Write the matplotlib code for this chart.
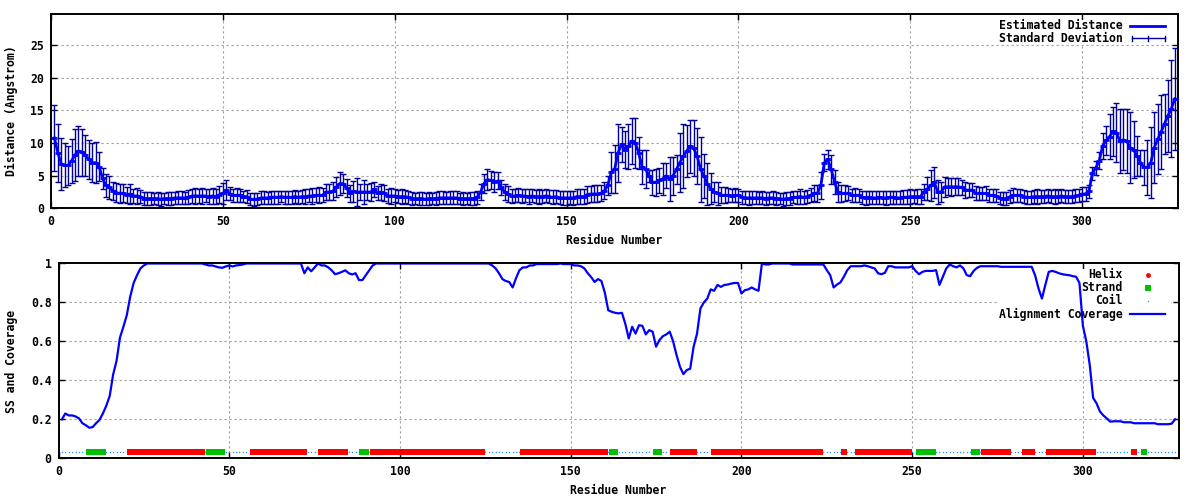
import numpy as np
import matplotlib
matplotlib.use('Agg')
import matplotlib.pyplot as plt
from matplotlib.lines import Line2D
from matplotlib.patches import Rectangle

# ---------------- data ----------------
residues = np.arange(1, 328)

distance = [
    10.8, 8.5, 6.8, 6.6, 6.6, 7.3, 8.2, 8.8, 8.6, 8.1,
    7.5, 7.0, 7.0, 6.4, 4.6, 3.5, 3.2, 2.7, 2.4, 2.3,
    2.3, 2.0, 2.2, 1.9, 1.9, 1.8, 1.5, 1.5, 1.5, 1.5,
    1.5, 1.4, 1.5, 1.5, 1.5, 1.6, 1.6, 1.6, 1.6, 1.7,
    1.9, 1.9, 1.9, 1.9, 1.9, 1.8, 1.9, 1.8, 2.1, 2.3,
    2.8, 2.2, 2.0, 2.0, 2.0, 1.8, 1.8, 1.4, 1.4, 1.4,
    1.6, 1.6, 1.6, 1.7, 1.7, 1.7, 1.8, 1.7, 1.7, 1.7,
    1.8, 1.7, 1.8, 1.8, 1.9, 1.9, 2.0, 2.0, 2.0, 2.5,
    2.5, 2.6, 3.3, 3.8, 3.8, 3.1, 2.3, 2.6, 2.5, 2.5,
    2.5, 2.5, 2.5, 2.9, 2.3, 2.5, 2.3, 1.9, 1.9, 1.9,
    1.8, 1.8, 1.8, 1.7, 1.5, 1.5, 1.5, 1.5, 1.4, 1.5,
    1.5, 1.5, 1.6, 1.6, 1.6, 1.6, 1.6, 1.6, 1.5, 1.5,
    1.5, 1.5, 1.5, 1.7, 2.5, 3.8, 4.4, 4.3, 4.0, 4.2,
    3.2, 2.5, 2.2, 1.9, 1.9, 2.0, 1.9, 1.9, 1.8, 1.9,
    1.8, 1.8, 1.8, 1.9, 1.8, 1.7, 1.8, 1.6, 1.6, 1.6,
    1.6, 1.6, 1.8, 1.8, 1.8, 2.1, 2.2, 2.2, 2.2, 2.3,
    2.7, 3.5, 5.5, 6.0, 8.5, 9.8, 9.0, 9.5, 10.3, 10.0,
    8.5, 6.3, 6.0, 5.0, 4.0, 4.0, 4.3, 4.5, 5.0, 4.5,
    5.0, 6.0, 7.0, 8.0, 8.8, 9.5, 9.2, 8.0, 6.0, 5.0,
    3.7, 3.0, 2.5, 2.3, 2.0, 2.0, 2.0, 1.9, 2.0, 2.0,
    1.7, 1.6, 1.6, 1.6, 1.6, 1.6, 1.6, 1.5, 1.6, 1.6,
    1.5, 1.5, 1.4, 1.5, 1.5, 1.7, 1.7, 1.8, 1.7, 1.8,
    2.0, 2.3, 2.3, 3.5, 7.0, 7.5, 6.0, 4.0, 2.5, 2.3,
    2.3, 2.3, 2.0, 2.0, 2.0, 1.7, 1.6, 1.7, 1.6, 1.6,
    1.7, 1.6, 1.6, 1.7, 1.7, 1.6, 1.6, 1.7, 1.7, 1.8,
    1.8, 1.8, 1.8, 2.5, 3.0, 3.5, 4.0, 2.5, 2.5, 3.3,
    3.3, 3.3, 3.3, 3.3, 3.2, 2.8, 2.8, 2.8, 2.3, 2.3,
    2.3, 2.3, 2.0, 2.0, 1.9, 1.6, 1.5, 1.5, 1.8, 2.0,
    2.0, 2.0, 1.8, 1.7, 1.7, 1.8, 1.8, 1.8, 1.8, 1.9,
    1.8, 1.8, 1.8, 1.9, 1.8, 1.8, 1.8, 1.9, 2.0, 2.2,
    2.2, 2.6, 5.4, 6.2, 7.3, 9.6, 10.4, 11.0, 11.8, 11.6,
    10.3, 10.5, 10.3, 9.3, 9.0, 8.0, 7.0, 6.3, 6.3, 7.0,
    9.3, 10.6, 11.7, 13.0, 14.2, 15.3, 16.8,
]

std_dev = [
    5.1, 4.5, 4.0, 3.4, 3.0, 3.4, 4.0, 3.8, 3.6, 3.2,
    3.0, 3.0, 3.1, 2.2, 1.6, 1.8, 1.7, 1.4, 1.5, 1.5,
    1.4, 1.2, 1.5, 1.1, 1.2, 1.0, 1.0, 1.0, 1.0, 0.9,
    1.0, 1.0, 0.9, 1.0, 1.0, 0.9, 1.0, 1.0, 0.9, 1.1,
    1.1, 1.2, 1.1, 1.2, 1.0, 1.1, 1.2, 1.1, 1.3, 1.6,
    1.5, 1.0, 1.0, 1.1, 1.0, 0.9, 1.0, 0.9, 1.0, 0.9,
    1.0, 1.0, 0.9, 1.0, 1.0, 1.0, 0.9, 1.0, 1.0, 1.0,
    1.0, 1.0, 1.0, 1.1, 1.0, 1.2, 1.1, 1.2, 1.1, 1.3,
    1.2, 1.4, 1.5, 1.8, 1.5, 1.4, 1.3, 1.6, 2.1, 1.3,
    1.8, 1.3, 1.4, 1.2, 1.1, 1.3, 1.2, 1.1, 1.2, 1.0,
    1.0, 1.1, 1.0, 1.0, 1.0, 0.9, 1.0, 1.0, 0.9, 1.0,
    0.9, 1.0, 1.0, 1.0, 0.9, 1.0, 1.0, 1.0, 0.9, 1.0,
    0.9, 1.0, 1.0, 1.0, 1.2, 1.5, 1.6, 1.4, 1.5, 1.3,
    1.2, 1.3, 1.2, 1.1, 1.0, 1.1, 1.1, 1.0, 1.1, 1.0,
    1.0, 1.1, 1.0, 1.0, 1.0, 1.1, 1.0, 1.0, 1.1, 1.1,
    1.0, 1.1, 1.1, 1.2, 1.1, 1.3, 1.2, 1.3, 1.3, 1.2,
    1.3, 1.5, 3.2, 3.7, 4.4, 2.7, 2.8, 3.5, 3.5, 3.8,
    2.5, 2.6, 2.9, 0.9, 1.9, 2.1, 1.9, 2.4, 1.9, 3.4,
    2.9, 2.2, 4.5, 4.9, 4.0, 4.1, 4.3, 4.3, 5.0, 3.4,
    3.2, 2.4, 1.6, 1.8, 1.2, 1.2, 1.1, 1.0, 1.1, 1.0,
    1.0, 1.0, 1.1, 1.0, 1.0, 0.9, 1.0, 1.0, 0.9, 1.0,
    1.0, 0.9, 1.0, 1.0, 1.0, 0.9, 1.0, 1.1, 1.0, 1.0,
    1.1, 1.2, 1.3, 2.0, 1.3, 1.5, 2.2, 1.8, 1.5, 1.3,
    1.2, 1.1, 1.0, 1.1, 1.0, 1.0, 1.1, 1.0, 1.0, 1.0,
    1.0, 1.0, 1.1, 1.0, 1.0, 1.0, 1.0, 1.1, 1.1, 1.1,
    1.0, 1.1, 1.1, 1.3, 1.8, 2.4, 2.4, 1.8, 1.5, 1.5,
    1.3, 1.4, 1.3, 1.3, 1.2, 1.2, 1.1, 1.1, 1.1, 1.0,
    1.0, 1.1, 1.0, 1.0, 1.0, 0.9, 1.0, 1.0, 1.0, 1.1,
    1.0, 1.0, 1.0, 1.0, 1.0, 1.0, 1.1, 1.0, 1.0, 1.0,
    1.0, 1.1, 1.0, 1.0, 1.0, 1.0, 1.0, 1.0, 1.0, 1.1,
    1.1, 1.0, 1.0, 1.1, 1.3, 2.0, 2.2, 3.5, 3.8, 4.5,
    4.9, 4.7, 4.9, 5.4, 4.4, 3.1, 2.0, 2.7, 4.2, 5.4,
    5.4, 5.4, 5.7, 4.6, 5.5, 7.5, 7.8,
]

coverage = [
    0.20, 0.23, 0.22, 0.22, 0.215, 0.205, 0.18, 0.17, 0.157, 0.16,
    0.18, 0.197, 0.23, 0.27, 0.32, 0.43, 0.50, 0.62, 0.675, 0.735,
    0.83, 0.90, 0.94, 0.975, 0.99, 1.0, 1.0, 1.0, 1.0, 1.0,
    1.0, 1.0, 1.0, 1.0, 1.0, 1.0, 1.0, 1.0, 1.0, 1.0,
    1.0, 1.0, 0.995, 0.99, 0.99, 0.985, 0.98, 0.978, 0.985, 0.99,
    0.985, 0.99, 0.992, 0.995, 1.0, 1.0, 1.0, 1.0, 1.0, 1.0,
    1.0, 1.0, 1.0, 1.0, 1.0, 1.0, 1.0, 1.0, 1.0, 1.0,
    1.0, 0.95, 0.98, 0.96, 0.98, 1.0, 0.99, 0.99, 0.98, 0.965,
    0.945, 0.95, 0.957, 0.965, 0.95, 0.944, 0.95, 0.915, 0.915, 0.94,
    0.965, 0.99, 1.0, 1.0, 1.0, 1.0, 1.0, 1.0, 1.0, 1.0,
    1.0, 1.0, 1.0, 1.0, 1.0, 1.0, 1.0, 1.0, 1.0, 1.0,
    1.0, 1.0, 1.0, 1.0, 1.0, 1.0, 1.0, 1.0, 1.0, 1.0,
    1.0, 1.0, 1.0, 1.0, 1.0, 1.0, 0.99, 0.975, 0.95, 0.92,
    0.91, 0.905, 0.877, 0.925, 0.966, 0.98, 0.98, 0.99, 0.99, 0.997,
    0.997, 0.997, 0.997, 0.997, 0.997, 0.997, 1.0, 0.997, 0.997, 0.997,
    0.99, 0.99, 0.986, 0.975, 0.95, 0.93, 0.905, 0.92, 0.91, 0.85,
    0.76, 0.752, 0.747, 0.744, 0.747, 0.69, 0.615, 0.675, 0.64, 0.683,
    0.68, 0.636, 0.658, 0.65, 0.573, 0.607, 0.627, 0.636, 0.65, 0.60,
    0.53, 0.47, 0.432, 0.453, 0.46, 0.573, 0.64, 0.77, 0.80, 0.82,
    0.867, 0.86, 0.89, 0.88, 0.89, 0.892, 0.897, 0.90, 0.90, 0.846,
    0.863, 0.867, 0.877, 0.867, 0.86, 1.0, 0.995, 0.995, 1.0, 1.0,
    1.0, 1.0, 1.0, 1.0, 0.995, 0.995, 0.995, 0.995, 0.995, 0.995,
    0.995, 0.995, 0.995, 0.995, 0.966, 0.94, 0.877, 0.892, 0.903, 0.932,
    0.966, 0.986, 0.986, 0.986, 0.986, 0.99, 0.986, 0.98, 0.975, 0.95,
    0.945, 0.952, 0.986, 0.986, 0.98, 0.98, 0.98, 0.98, 0.98, 0.986,
    0.962, 0.945, 0.957, 0.962, 0.962, 0.962, 0.966, 0.89, 0.932, 0.975,
    0.995, 0.986, 0.98, 0.99, 0.975, 0.94, 0.935, 0.962, 0.978, 0.986,
    0.986, 0.986, 0.986, 0.986, 0.986, 0.983, 0.983, 0.983, 0.983, 0.983,
    0.983, 0.983, 0.983, 0.983, 0.983, 0.94, 0.872, 0.82, 0.89, 0.957,
    0.962, 0.957, 0.95, 0.945, 0.942, 0.94, 0.935, 0.932, 0.90, 0.68,
    0.60, 0.48, 0.31, 0.282, 0.24, 0.22, 0.205, 0.188, 0.19, 0.19,
    0.19, 0.185, 0.185, 0.185, 0.18, 0.18, 0.18, 0.18, 0.18, 0.18,
    0.18, 0.175, 0.175, 0.175, 0.175, 0.178, 0.20,
]

helix_ranges = [(21, 42), (57, 72), (77, 84), (92, 124), (136, 160),
                (180, 186), (192, 223), (230, 230), (234, 249), (271, 278),
                (283, 285), (290, 303), (315, 315)]
strand_ranges = [(9, 13), (44, 48), (89, 90), (162, 163), (175, 176),
                 (252, 256), (268, 269), (318, 318)]

x_ticks = [0, 50, 100, 150, 200, 250, 300]
dist_ticks = [0, 5, 10, 15, 20, 25]
cov_ticks = [0, 0.2, 0.4, 0.6, 0.8, 1.0]
cov_tick_labels = ['0', '0.2', '0.4', '0.6', '0.8', '1']

# ---------------- style ----------------
FONT = 'DejaVu Sans Mono'
FS = 8.3
plt.rcParams['font.family'] = FONT
plt.rcParams['font.weight'] = 'bold'
plt.rcParams['font.size'] = FS

W, H = 1200, 500
def fx(px):
    return px / W
def fy(py):
    return 1 - py / H

fig = plt.figure(figsize=(12, 5), dpi=100)
fig.patch.set_facecolor('white')

ax1 = fig.add_axes([fx(51), fy(208.3), (1178.3 - 51) / W, (208.3 - 14.3) / H])
ax2 = fig.add_axes([fx(58.5), fy(458.3), (1178.5 - 58.5) / W, (458.3 - 263.5) / H])

for ax in (ax1, ax2):
    ax.set_axisbelow(True)
    ax.grid(True, color='#a0a0a0', linestyle=(0, (2.0, 2.5)), linewidth=0.8)
    ax.tick_params(direction='in', length=4.0, width=1.0, top=True, right=True,
                   labelsize=FS, pad=5.0, colors='black')
    for sp in ax.spines.values():
        sp.set_linewidth(1.4)
        sp.set_color('black')
    ax.set_xlim(0, 328)
    ax.set_xticks(x_ticks)
    ax.set_xticklabels([str(t) for t in x_ticks])

# ---- top panel ----
ax1.errorbar(residues, distance, yerr=std_dev, fmt='none', ecolor='#000099',
             elinewidth=1.0, capsize=2.2, capthick=1.0, zorder=2)
ax1.plot(residues, distance, color='#0000ff', lw=2.0, marker='_', ms=4,
         mew=2.0, zorder=3)
ax1.set_ylim(0, 29.75)
ax1.set_yticks(dist_ticks)
ax1.set_yticklabels([str(t) for t in dist_ticks])

# ---- bottom panel ----
res_arr = np.asarray(residues)
ss = np.array(['C'] * len(res_arr))
for a, b in helix_ranges:
    ss[(res_arr >= a) & (res_arr <= b)] = 'H'
for a, b in strand_ranges:
    ss[(res_arr >= a) & (res_arr <= b)] = 'E'
ss_level = 0.03
for code, mk, ms, col in [('C', '.', 2.0, '#1e90ff'),
                          ('H', 's', 4.2, '#ff0000'),
                          ('E', 's', 5.0, '#00c000')]:
    sel = res_arr[ss == code]
    ax2.plot(sel, [ss_level] * len(sel), ls='none', marker=mk, ms=ms,
             color=col, mew=0, zorder=2)
ax2.plot(residues, coverage, color='#0000ff', lw=1.6, zorder=3)
ax2.set_ylim(0, 1)
ax2.set_yticks(cov_ticks)
ax2.set_yticklabels(cov_tick_labels)

# ---------------- manual gnuplot-style keys ----------------
TF = fig.transFigure
def key_text(ax, px, py, s):
    ax.text(fx(px), fy(py), s, transform=TF, ha='right', va='center',
            fontsize=FS, fontweight='bold', family=FONT, zorder=1.5)

def key_line(ax, xs, ys, **kw):
    ax.add_artist(Line2D([fx(x) for x in xs], [fy(y) for y in ys],
                         transform=TF, **kw))

ax1.add_patch(Rectangle((fx(994), fy(44)), (1171 - 994) / W, (44 - 20) / H,
                        transform=TF, facecolor='white', edgecolor='none', zorder=1))
key_text(ax1, 1123, 25.7, 'Estimated Distance')
key_text(ax1, 1123, 38.7, 'Standard Deviation')
key_line(ax1, [1130, 1165], [25.7, 25.7], color='#0000ff', lw=2.0, zorder=3)
key_line(ax1, [1131.5, 1164.5], [38.3, 38.3], color='#000099', lw=1.0, zorder=3)
for xx in (1131.5, 1148, 1164.5):
    key_line(ax1, [xx, xx], [35.8, 40.8], color='#000099', lw=1.0, zorder=3)

ax2.add_patch(Rectangle((fx(998), fy(321)), (1171 - 998) / W, (321 - 269) / H,
                        transform=TF, facecolor='white', edgecolor='none', zorder=1))
key_text(ax2, 1123, 275, 'Helix')
key_text(ax2, 1123, 287.7, 'Strand')
key_text(ax2, 1123, 300.7, 'Coil')
key_text(ax2, 1123, 314, 'Alignment Coverage')
key_line(ax2, [1147.5], [274.8], ls='none', marker='o', ms=3.5, mew=0,
         color='#ff0000', zorder=3)
key_line(ax2, [1147.5], [287.7], ls='none', marker='s', ms=5.0, mew=0,
         color='#00c000', zorder=3)
key_line(ax2, [1147.5], [300.7], ls='none', marker='.', ms=2.0, mew=0,
         color='#1e90ff', zorder=3)
key_line(ax2, [1130, 1165], [314, 314], color='#0000ff', lw=1.6, zorder=3)

# ---------------- axis titles ----------------
fig.text(fx(11), fy(111), 'Distance (Angstrom)', rotation=90, ha='center',
         va='center', fontsize=FS, fontweight='bold', family=FONT)
fig.text(fx(614.5), fy(240), 'Residue Number', ha='center', va='center',
         fontsize=FS, fontweight='bold', family=FONT)
fig.text(fx(12), fy(361), 'SS and Coverage', rotation=90, ha='center',
         va='center', fontsize=FS, fontweight='bold', family=FONT)
fig.text(fx(618), fy(491), 'Residue Number', ha='center', va='center',
         fontsize=FS, fontweight='bold', family=FONT)

fig.savefig('out.png', dpi=100, facecolor='white')
